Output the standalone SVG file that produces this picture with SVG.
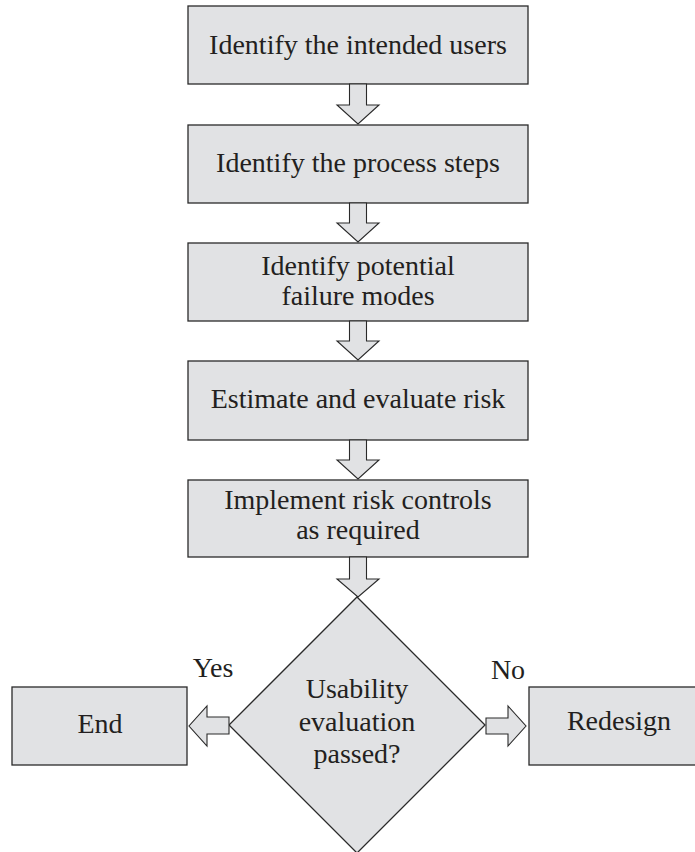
<svg xmlns="http://www.w3.org/2000/svg" width="695" height="852" viewBox="0 0 695 852">
<style>
.box{fill:#e1e2e4;stroke:#2a2a2a;stroke-width:1.3}
.arr{fill:#e1e2e4;stroke:#2a2a2a;stroke-width:1.1;stroke-linejoin:miter}
text{font-family:"Liberation Serif","DejaVu Serif",serif;font-size:28px;fill:#231f20;text-anchor:middle}
</style>
<rect width="695" height="852" fill="#fff"/>
<g id="n1"><rect class="box" x="188" y="6" width="340" height="78"/><text x="358" y="54">Identify the intended users</text></g>
<g id="n2"><rect class="box" x="188" y="125" width="340" height="78"/><text x="358" y="172">Identify the process steps</text></g>
<g id="n3"><rect class="box" x="188" y="243" width="340" height="78"/><text x="358" y="275">Identify potential</text><text x="358" y="305">failure modes</text></g>
<g id="n4"><rect class="box" x="188" y="361" width="340" height="79"/><text x="358" y="408">Estimate and evaluate risk</text></g>
<g id="n5"><rect class="box" x="188" y="480" width="340" height="77"/><text x="358" y="509">Implement risk controls</text><text x="358" y="539">as required</text></g>
<g id="decision"><polygon class="box" points="357,597 485,725 357,853 229,725"/><text x="357" y="698">Usability</text><text x="357" y="731">evaluation</text><text x="357" y="763">passed?</text></g>
<g id="end"><rect class="box" x="12" y="687" width="175" height="78"/><text x="100" y="733">End</text></g>
<g id="redesign"><rect class="box" x="529" y="687" width="170" height="78"/><text x="619" y="730">Redesign</text></g>
<g id="connectors">
<polygon class="arr" points="349.5,84 366.5,84 366.5,105 379,105 358,124 337,105 349.5,105"/>
<polygon class="arr" points="349.5,203 366.5,203 366.5,223 379,223 358,242 337,223 349.5,223"/>
<polygon class="arr" points="349.5,321 366.5,321 366.5,341 379,341 358,360 337,341 349.5,341"/>
<polygon class="arr" points="349.5,440 366.5,440 366.5,460 379,460 358,479 337,460 349.5,460"/>
<polygon class="arr" points="349.5,557 366.5,557 366.5,579 379,579 358,597 337,579 349.5,579"/>
<polygon class="arr" points="229,717 207,717 207,706 189,726 207,746 207,734 229,734"/>
<polygon class="arr" points="486,718 508,718 508,706 526,726 508,746 508,734 486,734"/>
<text x="213" y="677">Yes</text>
<text x="508" y="679">No</text>
</g>
</svg>
